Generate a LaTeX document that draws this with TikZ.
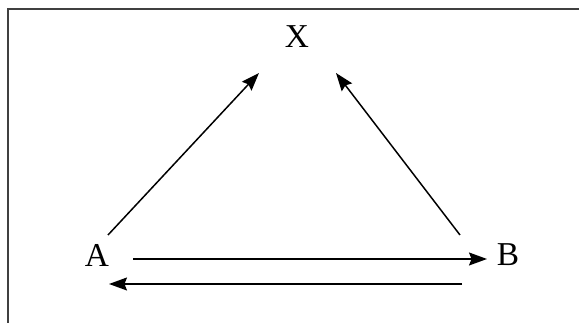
\documentclass[tikz,border=0pt]{standalone}
\usepackage{fontspec}
\setmainfont{Liberation Serif}
\usetikzlibrary{arrows.meta}
\begin{document}
\begin{tikzpicture}[x=0.02cm, y=-0.02cm,
    arr/.style={-{Stealth[length=0.36cm, width=0.26cm, inset=0.05cm]}, line width=0.85pt},
    lbl/.style={font=\fontsize{19}{22}\selectfont, inner sep=1pt}]
    \useasboundingbox (0,0) rectangle (579,323);

    % Frame (top and left edges)
    \draw[line width=1.2pt, black!75] (8,323) -- (8,9) -- (579,9);

    % Points
    \node[lbl] (X) at (297,37) {X};
    \node[lbl] (A) at (97,255) {A};
    \node[lbl] (B) at (508,255) {B};

    % Arrows to X
    \draw[arr] ([shift={(11,-20)}]A.center) -- ([shift={(-38,36)}]X.center);
    \draw[arr] ([shift={(-48,-20)}]B.center) -- ([shift={(39,36)}]X.center);

    % Arrows between A and B
    \draw[arr] ([shift={(36,4)}]A.center) -- ([shift={(-21,4)}]B.center);
    \draw[arr] ([shift={(-46,29)}]B.center) -- ([shift={(12,29)}]A.center);
  \end{tikzpicture}
\end{document}
